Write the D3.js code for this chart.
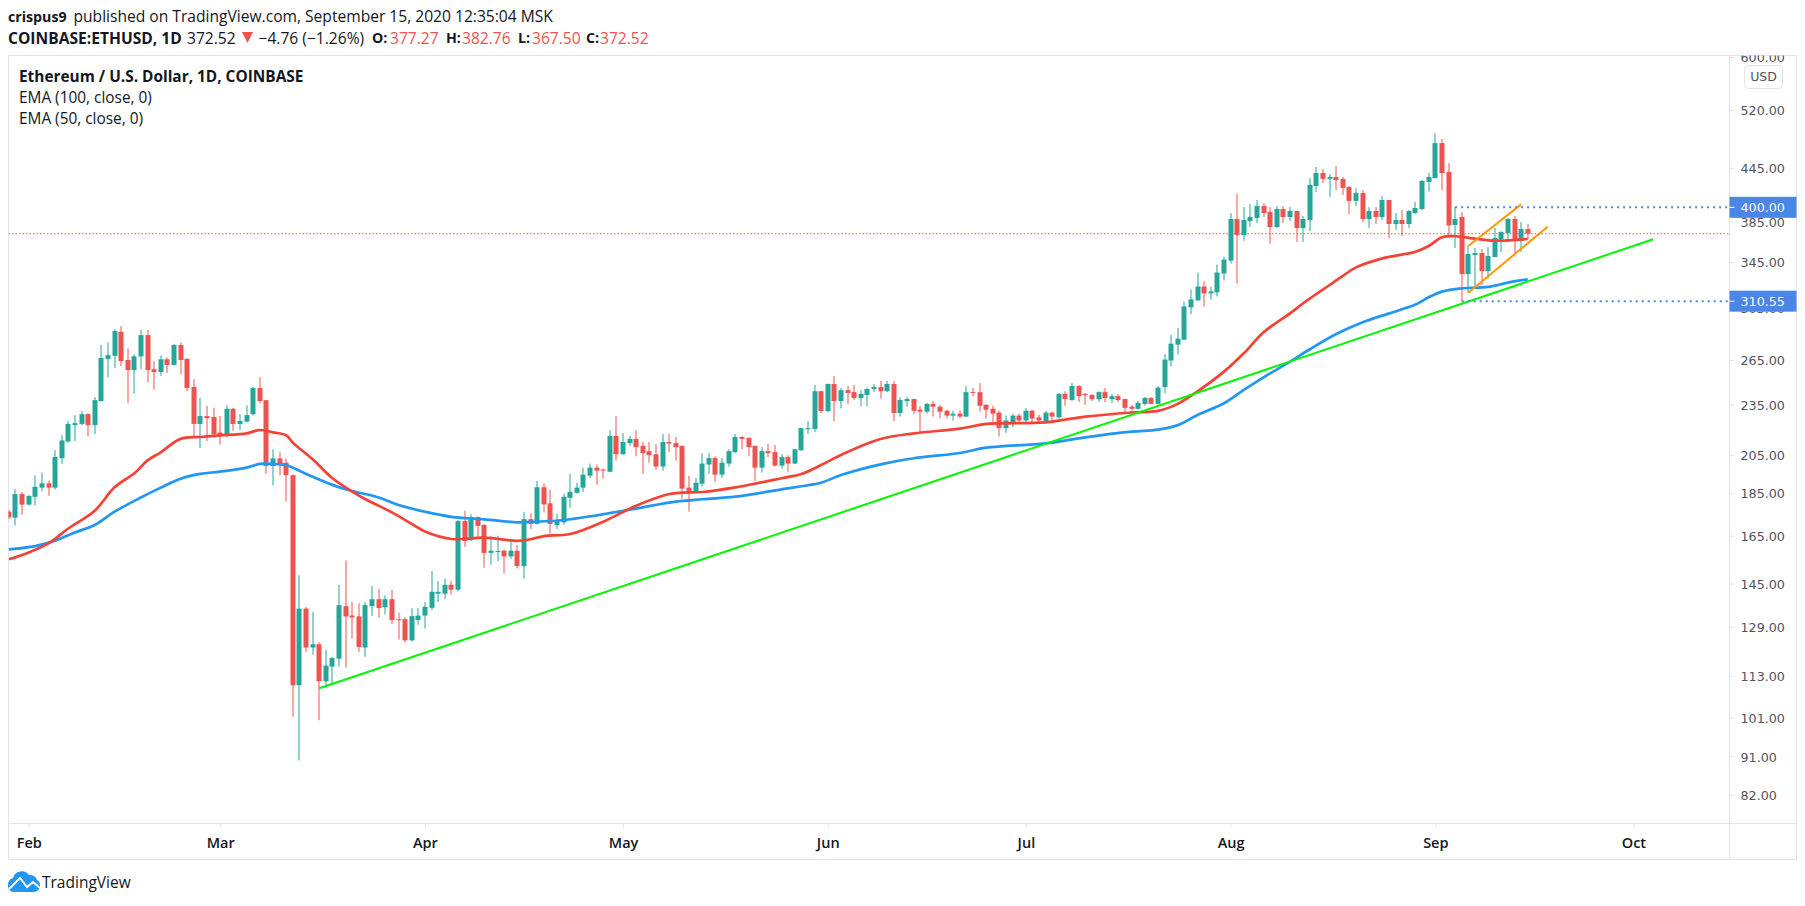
<!DOCTYPE html>
<html><head><meta charset="utf-8">
<style>html,body{margin:0;padding:0;background:#fff}svg{display:block}
.ui{font-family:"Open Sans",sans-serif;fill:#131722}
.b{font-weight:700}</style>
<script src="https://cdn.jsdelivr.net/npm/d3@7"></script></head><body>
<svg id="c" width="1805" height="906"></svg>
<script>
// daily candles, 2020-01-29 .. 2020-09-15
const firstDay = "2020-01-29";
const opens = [176,173.2,184.6,
179.4,183.2,187.8,190,187.8,203.3,212.7,222.3,223,229,222.3,237.2,265.8,268,285.9,265,257.9,267.6,283.4,258.5,256.5,265.5,261.5,275.9,265.7,246.4,223,227.8,227.2,
217.9,216.4,232.3,223,224.4,229,245.7,237.8,199.1,203.2,200.9,194.2,110.2,135.5,122,123.1,111.4,115.9,118.4,136.4,133,132.7,122,136.4,139,136,139,131.7,131.7,124.4,131.4,
133,135.8,141.1,141.1,144.5,142.6,171.6,163,173.5,169.8,157.5,157.9,158.4,156,158.4,152,172.5,170.3,188,180,169.8,171,182.7,185.2,187.8,194,198.2,197.2,196,215.9,
205.5,211.8,214.2,210.2,207.2,205.5,198.8,212.4,211.8,210.2,187.8,185.7,189.8,199.9,203.4,194.5,200.4,206.7,215.3,214.7,210.2,198.2,207.2,206.7,199.3,203.9,200.4,207.7,220,220,243.6,
230.9,248.4,237.2,244.3,243,239.2,241.1,245,246.3,243.6,248.4,229.7,237.2,238.5,231.7,230.5,235.4,233.6,231.1,228.1,229.3,227.5,243,243,234.8,232.3,229.9,220.5,224,228.1,
225.1,231.1,227,224.6,229.9,227,241.8,237.9,247,241.8,241.1,238.5,243,238.5,240.4,238.5,233.6,232.3,235.4,239.2,235.4,246.3,264.6,276.2,279.9,305.4,311.2,323.1,317.1,318,334.6,
346.5,387.6,371.3,385.5,388.7,401.4,395,379.3,398.2,389.7,396.1,378.3,386.6,423.7,438.8,431.9,434.1,431.9,422.5,407,415.7,387.6,396.1,389.7,408,382.4,386.6,382.4,393.9,398.2,428.3,
432.8,475.7,440,381.4,389.7,334.1,351.8,353.7,336.9,349.9,367.2,373.2,387.6,365.3,377.27];
const highs = [177,187.1,185.6,
184.1,194.1,195.6,191.5,207.8,216.4,224.8,228.4,230.8,229.6,239.7,275.9,277.8,287.9,290.4,273.4,269,287.3,287.3,264.2,268.4,266.8,276.6,277.9,266.4,251.6,239.3,234.2,233,
227.8,234.6,232.9,229,234.4,246.4,253,238,208.3,206.8,203.2,194.7,148.3,136.1,134.4,123.8,121.3,118.9,144.5,154.3,138,137.5,137.9,144,142.9,140.4,142.5,134,132.4,135.7,135.7,
137.9,150,146,147,146,172,176.4,175,173.7,170.3,165,165,159,162.6,160.9,175.9,175.2,191.2,190,186.6,175,184.7,195,190.3,198.2,200.4,199.9,197.7,219.3,227.8,
217.6,215.9,219.3,212.4,212.4,211.2,217,217,215.3,210.4,193.9,192.9,206.1,206.1,204.4,203.4,208.3,217,215.9,215.3,210.4,209.5,211.2,210.7,205.6,205,208.5,220.7,224.7,247.7,243.8,
248.6,253.8,245.7,247.1,247.7,244.3,245.7,248.4,250.4,250.4,250.4,239.8,239.8,238.7,234.2,236,237.2,234.8,231.7,231.1,231.1,247,245.7,249,235.4,234.2,231.1,228.1,229.3,229.3,
232.9,231.7,228.7,231.1,230.5,242.4,243.6,249,247.6,242.4,241.8,243.6,245.7,241.8,241.8,238.7,234.8,237.2,239.8,239.8,247,269.3,283.6,288.9,310.4,320.5,335.5,327.5,323.1,342.8,350.2,
393.9,414.7,400.3,403.6,408,404.6,400.3,401.4,401.4,400.3,396.1,390.8,433,446,443.6,437.6,447.2,434.1,423.7,421.4,419.1,400.3,400.3,412.5,408.2,393.9,397.1,397.1,405.8,430.6,438.8,
488.7,480.9,450.8,400.3,395,361,358.5,357.5,359.4,378.3,375.3,388.6,390.8,384.4,382.76];
const lows = [172.5,169.5,174.6,
179,179,186,183.7,186.8,200.1,212,213,222.3,215.6,217,236.8,253,259.3,260.6,235.9,242,258.5,249.7,244.6,253.9,255.9,261,255,243.6,215.3,209,213,216,
211,215,219,219.4,224,228,236,195,189,194,180.9,101.2,90,120.5,119.7,100.3,109.6,110.2,115.9,115.6,125,120.6,119,132.9,132.2,133.4,130,124.7,123.7,124,129.7,
128.4,135,137.9,139,140.7,142,160,162.6,164.5,151.3,152.6,154,149,155,151,147,168,170,175.6,165.9,168,170,177.9,184.7,185.7,192.6,189.3,192.4,196,202,
205.3,210.2,204.4,194.9,200.9,197,196.6,206.7,202,182.3,176,185.2,188.3,195,190.8,192.9,198.8,206.1,208.3,204.4,191.3,195.5,203.9,198.8,197.7,196,200.2,207.5,217,218.2,229.6,
230.2,224.7,232.6,235.3,237.8,233.9,233.9,243,238.6,243,224.7,227.5,233.6,229.3,218.3,229.3,227.5,226.3,226.3,225.1,226.3,227,240.4,230.5,226.3,223.4,215.5,217.7,221.1,224,
224,222.9,224,224,223.4,226.3,234.2,237.2,236.6,234.8,237.2,236.6,236.6,236,236.6,229.9,229.9,231.7,234.2,235.2,235.2,242.3,260.4,268.8,279.8,299.7,311,306.2,312,314.6,328.4,
343.7,325.8,365.4,379.3,383.5,389.7,362.5,378.3,383.5,385.5,364.4,364.4,375.3,416.9,427.1,411.3,419.1,413.5,392.9,401.4,384.5,378.3,382.4,386.6,368.3,376.3,370.3,378.3,392.9,397.1,417.5,
432.5,419.1,371.2,358.5,310.55,317.5,322.7,324.4,329.7,349.8,354.6,364.3,352.7,354.6,367.5];
const closes = [173.3,184.6,179.4,
183.6,188.2,190,187.8,204,213.3,223,223.5,229,222.3,237.8,266.4,268.5,286.5,264.2,257.9,267.6,283.4,257.9,256.5,265.5,261.5,275.9,265,245.7,223,227.8,226.5,216.9,
216,232.3,223,224.8,228.4,245.7,237.2,199.1,203.2,200.3,194.2,110.2,135.5,122,123.1,111.4,116.2,118.6,136.8,132.7,132.3,122.2,136.8,139,135.7,139,131.4,131.4,124.4,132.8,133,
136.2,141.8,141.8,144.5,142.6,171.6,162.6,173.5,169.4,157.5,158.4,158.3,156,158.4,152,172.5,170.3,188,179.5,170.3,171.6,183.2,185.7,187.8,194.5,198.2,196.6,196.9,215.9,205.5,
212.4,214.2,209.5,206.1,205,198.8,212.4,211.5,209.5,187.3,185.2,190.3,200.4,203.4,194.5,200.9,207.2,215.3,214.2,209.5,198.2,207.2,206.1,199.3,203.9,200.4,208.3,220.5,220.5,243.6,230.9,
248.4,237.2,244.3,242.4,239.2,241.8,245,246.3,243.6,248.4,229.7,237.9,238.5,231.1,230.5,235.4,233.6,230.5,228.1,229.3,227.5,243,242.8,234.2,231.7,229.3,220.5,225.1,228.1,225.1,
231.1,226.3,225.1,229.9,227.5,241.8,238.5,247,240.4,241.1,238.5,243,239.2,240.4,237.9,232.9,232.3,236,239.2,235.4,246,265.3,276.9,280.7,306.2,312,323.1,317.1,318.8,335.5,347.4,
387.6,371.3,386.6,389.7,401.4,393.9,379.3,398.2,389.7,396.1,378.3,387.6,424.9,438.8,431.9,434.1,430.6,421.4,407,415.7,387.6,396.1,389.7,408,382.4,386.6,382.4,396.1,399.3,429.5,434.1,
475.7,438.8,381,387.6,334.1,352.7,353.7,336.9,350.8,368.2,374.2,387.6,366.2,377.27,372.52];

// moving averages: day offsets from 1 Feb 2020, then price
const ema100Days = [-3,1,4,7,10,13,17,20,23,26,29,33,35,38,39,42,46,49,53,56,60,64,69,74,76,81,86,92,97,102,107,114,118,120,123,129,134,141,145,154,160,167,171,174,177,181,184,187,191,194,198,202,206,210,212,214,217,221,224,227];
const ema100 = [159,160.4,162.8,166.4,169.8,176,182.9,187.8,192.4,194.9,196.1,198.2,200.2,200,199.6,194.9,189.2,186.1,182.9,179.2,176,173.6,172.4,171,171.2,172.1,174.3,177.5,180.4,182,183.3,186.9,189,190.3,194.3,200,203.3,206.2,209.2,211.6,215.1,218.4,219.6,222.3,228.5,235.8,244.4,252.9,263.8,272.8,284.2,293.4,300.5,307.7,313.8,318.7,321.5,322.7,326.5,329.3];
const ema50Days = [-3,0,3,6,10,13,16,18,20,23,26,29,33,35,37,39,40,43,46,49,51,55,58,60,64,69,74,76,78,82,87,92,97,99,102,107,114,117,120,123,129,134,141,145,154,160,167,171,174,177,181,184,187,191,193,197,199,201,205,210,212,214,216,219,222,227];
const ema50 = [154.8,157.7,161.6,168.2,176.5,188,195.2,202.1,206.6,214.2,215.3,216.2,217.4,219.4,218,216.2,212,202.7,192.6,185.8,182,175.7,170.3,166.8,163.5,164.1,162.7,163.4,164.8,165.7,171.3,178.9,184.6,185.3,185.6,187.9,192.6,194.8,199.6,205.1,214.1,217.4,220.2,223,224,227.4,230,231,235.4,243.5,256.8,269.8,285.6,300.5,308.8,324.4,332.4,340.2,348.6,354.9,360.4,369,370,367.6,365.6,367.3];

// drawn lines: [start date, start price, end date, end price]
const trendGreen = ["2020-03-16",109.3,"2020-10-04",367];
const channelUpper = ["2020-09-06",360.4,"2020-09-14",403.2];
const channelLower = ["2020-09-06",317.7,"2020-09-18",379.6];
const levelHigh = ["2020-09-04",400];
const levelLow = ["2020-09-05",310.55];
const lastPrice = 372.52;

const priceTicks = [600,520,445,385,345,305,265,235,205,185,165,145,129,113,101,91,82];
const monthTicks = ["2020-02-01","2020-03-01","2020-04-01","2020-05-01","2020-06-01","2020-07-01","2020-08-01","2020-09-01","2020-10-01"];

const UP="#26a69a", DOWN="#ef5350", GRID="#e0e3eb", BLUE="#4a86e8";
const L=8.5,R=1729.5,T=55.5,B=823.5,RR=1796.5,BB=859.5;
const svg=d3.select("#c");
const utc=d3.utcParse("%Y-%m-%d");
const feb1=utc("2020-02-01");
const x=d3.scaleUtc().domain([feb1,utc("2020-09-01")]).range([28.7,1435.3]);
const y=d3.scaleLog().domain([75.9,603.3]).range([823.5,55]);

const days=opens.map((_,i)=>d3.utcDay.offset(utc(firstDay),i));
const candles=days.map((d,i)=>({d,o:opens[i],h:highs[i],l:lows[i],c:closes[i]}));

const defs=svg.append("defs");
defs.append("clipPath").attr("id","plot").append("rect").attr("x",L).attr("y",T).attr("width",R-L).attr("height",B-T);

// frame
svg.append("rect").attr("x",L).attr("y",T).attr("width",RR-L).attr("height",BB-T).attr("fill","#fff").attr("stroke",GRID);
svg.append("line").attr("x1",L).attr("x2",RR).attr("y1",B).attr("y2",B).attr("stroke",GRID);
svg.append("line").attr("x1",R).attr("x2",R).attr("y1",T).attr("y2",BB).attr("stroke",GRID);

const plot=svg.append("g").attr("clip-path","url(#plot)");
// last price
plot.append("line").attr("x1",L).attr("x2",R).attr("y1",y(lastPrice)).attr("y2",y(lastPrice))
 .attr("stroke",DOWN).attr("stroke-width",1).attr("stroke-dasharray","1.5 2");

const cg=plot.append("g").selectAll("g").data(candles).join("g");
const col=d=>d.c>=d.o?UP:DOWN;
cg.append("rect").attr("x",d=>Math.round(x(d.d))-0.5).attr("width",1)
 .attr("y",d=>y(d.h)).attr("height",d=>y(d.l)-y(d.h)).attr("fill",col);
cg.append("rect").attr("x",d=>Math.round(x(d.d))-2.5).attr("width",5)
 .attr("y",d=>y(Math.max(d.o,d.c))).attr("height",d=>Math.max(1,y(Math.min(d.o,d.c))-y(Math.max(d.o,d.c)))).attr("fill",col);

const emaLine=(ds,vs,color)=>{
  const pts=ds.map((d,i)=>[d3.utcDay.offset(feb1,d),vs[i]]);
  plot.append("path").datum(pts).attr("fill","none").attr("stroke",color).attr("stroke-width",2.7).attr("stroke-linejoin","round")
   .attr("d",d3.line().x(p=>x(p[0])).y(p=>y(p[1])).curve(d3.curveCatmullRom.alpha(0.5)));
};
emaLine(ema100Days,ema100,"#2196f3");
emaLine(ema50Days,ema50,"#f44336");

const seg=(s,color)=>plot.append("line").attr("x1",x(utc(s[0]))).attr("y1",y(s[1])).attr("x2",x(utc(s[2]))).attr("y2",y(s[3]))
  .attr("stroke",color).attr("stroke-width",2);
seg(trendGreen,"#00f700");
seg(channelUpper,"#ff9800");
seg(channelLower,"#ff9800");
[levelHigh,levelLow].forEach(l=>{
  plot.append("line").attr("x1",x(utc(l[0]))).attr("x2",R).attr("y1",y(l[1])).attr("y2",y(l[1]))
   .attr("stroke",BLUE).attr("stroke-width",2).attr("stroke-dasharray","2 4");
});

// price axis
const yAxis=d3.axisRight(y).tickValues(priceTicks).tickFormat(d3.format(".2f")).tickSize(5).tickPadding(6);
const yg=svg.append("g").attr("transform",`translate(${R},0)`).attr("clip-path","url(#yax2)").call(yAxis);
defs.append("clipPath").attr("id","yax2").append("rect").attr("x",0).attr("y",T).attr("width",RR-R).attr("height",B-T);
yg.select(".domain").remove();
yg.selectAll("line").attr("stroke",GRID);
yg.selectAll("text").attr("font-family","DejaVu Sans").attr("font-size",12.7).attr("fill","#50535e").attr("font-weight",400).attr("transform","translate(0,0.7)");

// level labels
[400,310.55].forEach(v=>{
  svg.append("rect").attr("x",R).attr("width",RR-R).attr("y",y(v)-10.5).attr("height",21).attr("fill",BLUE);
  svg.append("line").attr("x1",R).attr("x2",R+5).attr("y1",y(v)).attr("y2",y(v)).attr("stroke","#fff");
  svg.append("text").attr("x",R+11).attr("y",y(v)).attr("dy","0.35em").attr("font-family","DejaVu Sans").attr("font-size",12.7).attr("fill","#fff").text(d3.format(".2f")(v));
});

// USD button
svg.append("rect").attr("x",1744.5).attr("y",65.5).attr("width",38).attr("height",23).attr("rx",4).attr("fill","#fff").attr("stroke",GRID);
svg.append("text").attr("x",1763.5).attr("y",76.5).attr("dy","0.35em").attr("text-anchor","middle").attr("font-family","DejaVu Sans").attr("font-size",12.5).attr("fill","#50535e").text("USD");

// time axis
const xAxis=d3.axisBottom(x).tickValues(monthTicks.map(utc)).tickFormat(d3.utcFormat("%b")).tickSize(4).tickPadding(10);
const xg=svg.append("g").attr("transform",`translate(0,${B})`).call(xAxis);
xg.select(".domain").remove();
xg.selectAll("line").attr("stroke",GRID);
xg.selectAll("text").attr("font-family","Open Sans").attr("font-weight",600).attr("font-size",14.5).attr("fill","#131722");

// header
const HF=15.6, LF=15.4, KF=14.2;
const t=(px,py,s,cls,fs,fill)=>svg.append("text").attr("class","ui "+(cls||"")).attr("x",px).attr("y",py).attr("dy","0.35em").attr("font-size",fs||HF).style("fill",fill||null).text(s);
t(8,17,"crispus9","b",14.2);
t(73.5,17,"published on TradingView.com, September 15, 2020 12:35:04 MSK");
t(8,38.5,"COINBASE:ETHUSD, 1D","b");
t(187,38.5,"372.52");
svg.append("path").attr("d","M242 32H253L247.5 43Z").attr("fill",DOWN);
t(258.5,38.5,"\u22124.76 (\u22121.26%)");
t(372,38.5,"O:","b",KF); t(390,38.5,"377.27","",HF,DOWN);
t(446,38.5,"H:","b",KF); t(462,38.5,"382.76","",HF,DOWN);
t(518,38.5,"L:","b",KF); t(532,38.5,"367.50","",HF,DOWN);
t(586,38.5,"C:","b",KF); t(600,38.5,"372.52","",HF,DOWN);
t(19,76.5,"Ethereum / U.S. Dollar, 1D, COINBASE","b",LF);
t(19,97.5,"EMA (100, close, 0)","",LF);
t(19,118.5,"EMA (50, close, 0)","",LF);

// logo
svg.append("path").attr("fill","#2196f3").attr("d","M8 886a7 7 0 0 1 5-8a9 9 0 0 1 16-3a7 7 0 0 1 8 5a6 6 0 0 1 3 6a6 6 0 0 1-6 6H13a5.5 5.5 0 0 1-5-6Z");
svg.append("path").attr("fill","none").attr("stroke","#fff").attr("stroke-width",2).attr("d","M9 889L20 878L27 887L33 882L40 888");
t(42,883,"TradingView","",15.5,"#131722");
</script></body></html>
